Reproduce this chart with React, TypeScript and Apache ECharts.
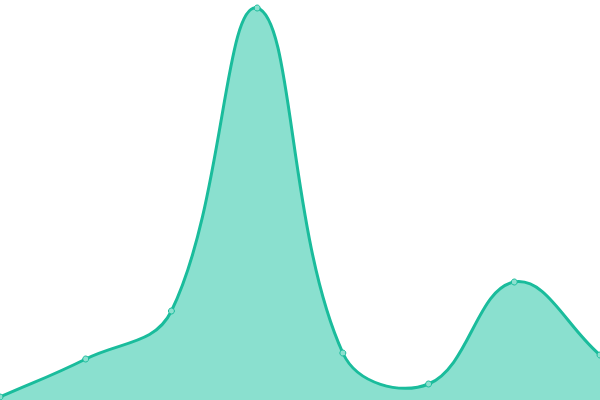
import React, { useEffect, useRef } from 'react';
import * as echarts from 'echarts';

const categories = ['1', '2', '3', '4', '5', '6', '7', '8'];
const values = [3, 41, 89, 392, 47, 16, 118, 45];

const LINE = '#1abc9c';
const AREA = '#8ae0cf';
const TENSION = 0.4;

// cardinal-style spline through the points (control points are not clamped)
function splinePath(pts: number[][]) {
    const cps = pts.map((cur, i) => {
        const prev = pts[i - 1] || cur;
        const next = pts[i + 1] || cur;
        const d01 = Math.hypot(cur[0] - prev[0], cur[1] - prev[1]);
        const d12 = Math.hypot(next[0] - cur[0], next[1] - cur[1]);
        const s01 = d01 / (d01 + d12) || 0;
        const s12 = d12 / (d01 + d12) || 0;
        const fa = TENSION * s01;
        const fb = TENSION * s12;
        return {
            prev: [cur[0] - fa * (next[0] - prev[0]), cur[1] - fa * (next[1] - prev[1])],
            next: [cur[0] + fb * (next[0] - prev[0]), cur[1] + fb * (next[1] - prev[1])]
        };
    });
    let d = `M${pts[0][0]},${pts[0][1]}`;
    for (let i = 1; i < pts.length; i++) {
        const a = cps[i - 1].next;
        const b = cps[i].prev;
        d += ` C${a[0]},${a[1]} ${b[0]},${b[1]} ${pts[i][0]},${pts[i][1]}`;
    }
    return d;
}

const App: React.FC = () => {
    const chartRef: any = useRef();

    useEffect(() => {
        document.body.style.margin = '0';
        const chart = echarts.init(chartRef.current, undefined, { renderer: 'svg' });
        const option = {
            animation: false,
            grid: { left: 0, right: 0, top: 0, bottom: 0 },
            xAxis: {
                type: 'category',
                data: categories,
                boundaryGap: false,
                show: false
            },
            yAxis: {
                type: 'value',
                min: 0,
                max: 400,
                show: false
            },
            series: [
                {
                    type: 'custom',
                    data: values.map((v, i) => [i, v]),
                    encode: { x: 0, y: 1 },
                    silent: true,
                    z: 1,
                    renderItem: (params: any, api: any) => {
                        if (params.dataIndex !== 0) return null;
                        const pts = values.map((v, i) => api.coord([i, v]));
                        const curve = splinePath(pts);
                        const base = api.coord([0, 0])[1];
                        const last = pts[pts.length - 1];
                        const area = `${curve} L${last[0]},${base} L${pts[0][0]},${base} Z`;
                        return {
                            type: 'group',
                            children: [
                                { type: 'path', shape: { pathData: area }, style: { fill: AREA, stroke: null } },
                                { type: 'path', shape: { pathData: curve }, style: { fill: null, stroke: LINE, lineWidth: 3 } }
                            ]
                        };
                    }
                },
                {
                    type: 'line',
                    data: values,
                    z: 3,
                    symbol: 'circle',
                    symbolSize: 6,
                    lineStyle: { opacity: 0 },
                    itemStyle: { color: '#8ce0cf', borderColor: LINE, borderWidth: 1 }
                }
            ]
        };
        chart.setOption(option);
        return () => {
            chart.dispose();
        };
    }, []);

    return <div ref={chartRef} style={{ width: 600, height: 400 }}></div>;
};

export default App;
